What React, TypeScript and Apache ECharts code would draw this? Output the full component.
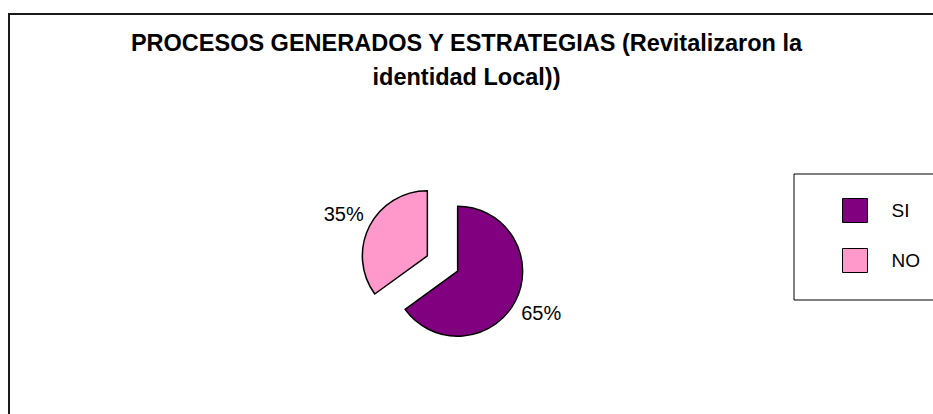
import React, { useEffect, useRef } from "react";
import * as echarts from "echarts";

const titleLines = ["PROCESOS GENERADOS Y ESTRATEGIAS (Revitalizaron la", "identidad Local))"];
const categories = ["SI", "NO"];
const values = [65, 35];
const colors = ["#800080", "#FF99CC"];

const FONT = "'Liberation Sans', Arial, Helvetica, sans-serif";

export default function App() {
  const ref = useRef<HTMLDivElement>(null);
  useEffect(() => {
    if (!ref.current) return;
    const chart = echarts.init(ref.current, undefined, { renderer: "svg" });
    const data = categories.map((name, i) => ({
      name,
      value: values[i],
      selected: true,
      itemStyle: { color: colors[i] },
    }));
    chart.setOption({
      animation: false,
      backgroundColor: "#ffffff",
      title: {
        text: titleLines.join("\n"),
        left: "center",
        top: 21,
        padding: [5, 0, 5, 8],
        textStyle: {
          fontFamily: FONT,
          fontSize: 23.5,
          fontWeight: "bold",
          color: "#000",
          lineHeight: 34,
        },
      },
      legend: {
        orient: "vertical",
        left: 794,
        top: 174,
        padding: [24, 60, 27, 48],
        itemWidth: 25,
        itemHeight: 24,
        itemGap: 25,
        borderColor: "#000",
        borderWidth: 1,
        borderRadius: 0,
        icon: "rect",
        selectedMode: false,
        itemStyle: { borderColor: "#000", borderWidth: 1 },
        textStyle: {
          fontFamily: FONT,
          fontSize: 19,
          color: "#000",
          padding: [0, 0, 0, 19],
        },
        data: categories,
      },
      graphic: [
        {
          type: "rect",
          shape: { x: 9, y: 14, width: 1000, height: 1000 },
          style: { fill: "none", stroke: "#1a1a1a", lineWidth: 2 },
          silent: true,
          z: -1,
        },
      ],
      series: [
        {
          type: "pie",
          center: [442.5, 263.5],
          radius: 65,
          startAngle: 90,
          clockwise: true,
          selectedMode: "multiple",
          selectedOffset: 17,
          emphasis: { disabled: true },
          itemStyle: { borderColor: "#000", borderWidth: 1.5 },
          select: { itemStyle: { borderColor: "#000", borderWidth: 1.5 } },
          label: {
            show: true,
            position: "outside",
            alignTo: "none",
            distanceToLabelLine: -17.5,
            fontFamily: FONT,
            fontSize: 20,
            color: "#000",
            formatter: (p: any) => Math.round(p.percent) + "%",
          },
          labelLine: {
            show: true,
            length: 26,
            length2: 0,
            lineStyle: { opacity: 0 },
          },
          data,
        },
      ],
    });
    return () => chart.dispose();
  }, []);
  return (
    <div
      ref={ref}
      style={{ position: "absolute", left: 0, top: 0, width: 933, height: 414 }}
    />
  );
}
